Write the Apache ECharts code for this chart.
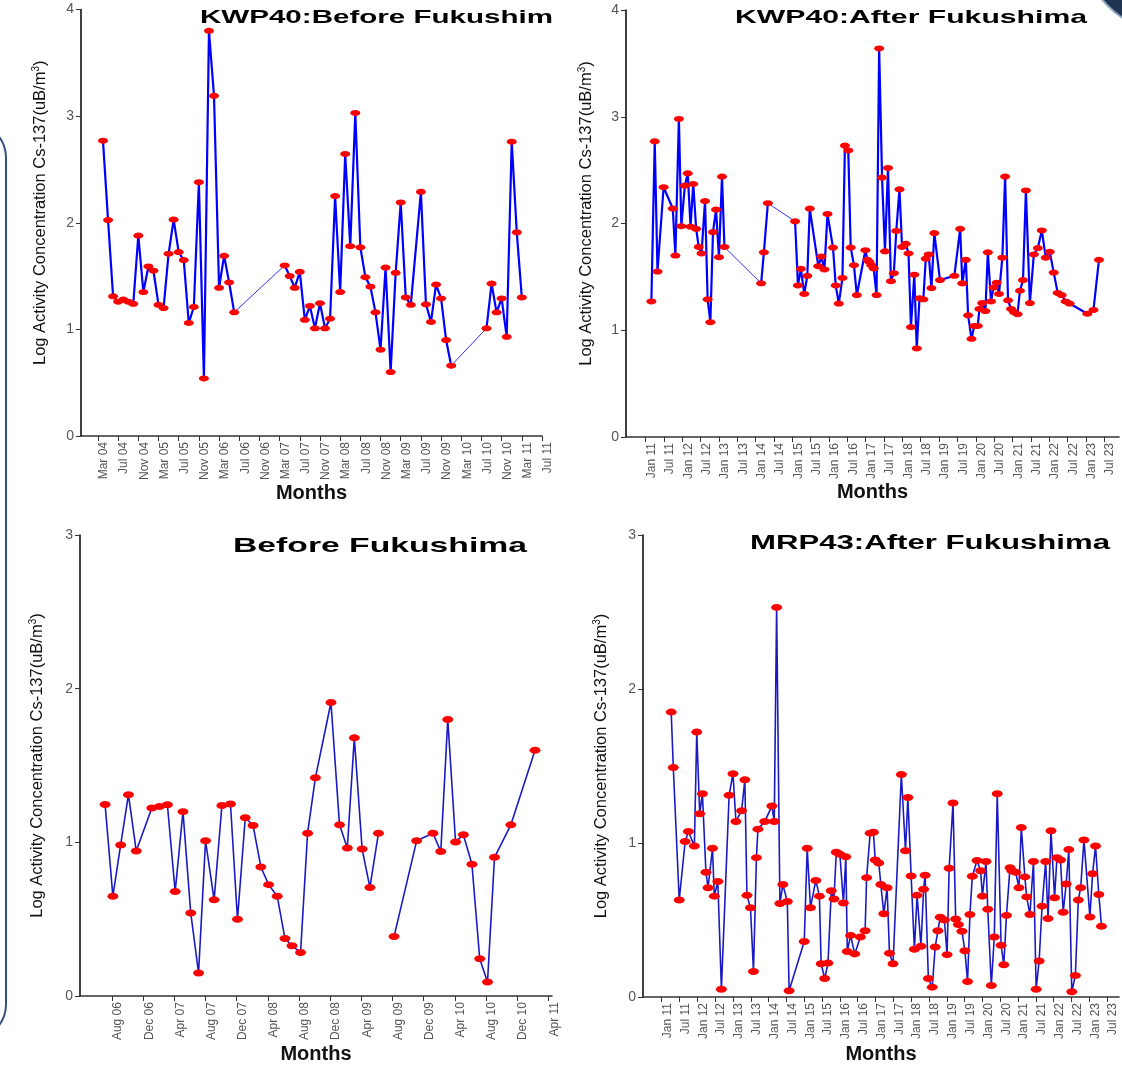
<!DOCTYPE html>
<html><head><meta charset="utf-8">
<script src="https://cdn.jsdelivr.net/npm/echarts@6/dist/echarts.min.js"></script>
<style>html,body{margin:0;padding:0;background:#fff}#c{width:1122px;height:1065px}</style>
</head><body><div id="c"></div>
<script>
// ---------- DATA (months counted from Jan 2000: month index = yy*12 + monthNumber-1) ----------
const kwpBeforeMonths = [51,52,53,54,55,56,57,58,59,60,61,62,63,64,65,66,67,68,69,70,71,72,73,74,75,76,77,
  87,88,89,90,91,92,93,94,95,96,97,98,99,100,101,102,103,104,105,106,107,108,109,110,111,112,
  114,115,116,117,118,119,120,127,128,129,130,131,132,133,134];
const kwpBeforeValues = [2.77,2.025,1.31,1.26,1.28,1.26,1.24,1.88,1.35,1.59,1.55,1.23,1.20,1.71,2.03,1.725,1.65,1.06,1.21,2.38,0.54,3.80,3.19,1.39,1.69,1.44,1.16,
  1.60,1.50,1.39,1.54,1.09,1.22,1.01,1.245,1.01,1.10,2.25,1.35,2.645,1.78,3.03,1.77,1.49,1.40,1.16,0.81,1.58,0.60,1.53,2.19,1.30,1.23,
  2.29,1.235,1.07,1.42,1.29,0.90,0.66,1.01,1.43,1.16,1.29,0.93,2.76,1.91,1.30];

const kwpAfterMonths = [133.9,135.0,135.9,137.9,140.9,141.75,142.9,143.7,144.85,145.8,146.7,147.6,148.55,149.4,150.3,151.45,152.3,153.2,154.05,155.05,156.0,157.0,157.8,
  169.8,170.7,172.0,180.9,181.85,182.8,183.9,184.9,185.7,188.5,189.5,190.5,191.5,193.3,194.2,195.2,196.4,197.2,198.3,199.1,200.15,201.1,
  203.9,204.55,205.2,205.85,206.6,207.55,208.4,209.35,210.3,211.3,212.25,213.2,214.0,215.05,215.9,217.1,218.0,218.8,219.9,220.7,221.6,222.85,223.65,224.6,225.5,226.45,228.3,
  233.0,234.9,235.6,236.75,237.5,238.6,239.5,240.65,241.2,242.1,243.15,243.95,245.0,245.8,246.85,247.6,248.7,249.6,250.55,251.55,252.5,253.65,254.45,255.45,256.4,257.7,259.0,260.3,261.6,262.9,264.2,265.5,266.8,268.1,269.4,270.7,276.5,278.5,280.3];
const kwpAfterValues = [1.27,2.77,1.55,2.34,2.14,1.70,2.98,1.975,2.355,2.47,1.97,2.37,1.95,1.78,1.72,2.21,1.29,1.075,1.92,2.13,1.685,2.44,1.78,
  1.44,1.73,2.19,2.02,1.42,1.575,1.34,1.51,2.14,1.60,1.69,1.57,2.09,1.775,1.42,1.25,1.49,2.73,2.685,1.775,1.61,1.33,
  1.75,1.66,1.64,1.61,1.58,1.33,3.64,2.43,1.74,2.52,1.46,1.535,1.93,2.32,1.78,1.81,1.72,1.03,1.52,0.83,1.30,1.29,1.67,1.71,1.395,1.91,1.47,
  1.51,1.95,1.44,1.66,1.14,0.92,1.04,1.04,1.20,1.255,1.18,1.73,1.27,1.40,1.445,1.34,1.68,2.44,1.28,1.20,1.17,1.15,1.37,1.47,2.31,1.255,1.71,1.77,1.935,1.68,1.735,1.54,1.35,1.33,1.27,1.25,1.155,1.19,1.66];

const mrpBeforeMonths = [78.1,79.1,80.1,81.1,82.1,84.1,85.1,86.1,87.1,88.1,89.1,90.1,91.0,92.1,93.1,94.2,95.1,96.1,97.1,98.1,99.1,100.2,101.2,102.1,103.2,104.1,105.1,107.1,108.2,109.2,110.1,111.1,112.1,113.2,
  114.2,115.2,118.1,120.2,121.2,122.1,123.1,124.1,125.2,126.2,127.2,128.1,130.2,133.3];
const mrpBeforeValues = [1.247,0.65,0.983,1.31,0.944,1.224,1.234,1.245,0.68,1.20,0.54,0.15,1.01,0.626,1.24,1.25,0.50,1.16,1.11,0.84,0.725,0.65,0.374,0.327,0.284,1.06,1.42,1.91,1.114,0.963,1.68,0.957,0.707,1.06,
  null,0.387,1.01,1.06,0.94,1.80,1.002,1.05,0.858,0.243,0.092,0.903,1.114,1.60];

const mrpAfterMonths = [135.2,135.9,137.9,139.9,141.0,143.0,143.8,144.8,145.7,146.9,147.6,149.1,149.7,150.9,152.1,154.7,156.0,157.0,158.9,160.0,160.7,161.9,162.9,163.9,164.4,166.7,169.1,169.9,170.7,171.8,172.8,174.3,174.9,
  180.0,181.0,182.1,183.9,185.1,185.7,186.9,188.0,189.1,190.0,190.8,192.0,193.2,194.0,194.5,195.6,197.0,198.9,200.5,201.0,202.2,203.3,203.9,205.1,205.8,206.8,207.9,208.7,209.9,
  212.7,214.1,214.9,216.0,217.1,218.0,219.3,220.2,220.7,221.8,223.1,224.1,225.0,225.8,227.2,228.1,228.8,230.1,231.0,231.9,233.1,234.1,235.0,235.8,236.6,238.2,239.4,240.0,241.2,241.8,
  243.0,244.0,245.0,246.3,247.2,248.1,249.3,249.9,251.2,252.3,253.1,254.3,254.9,256.0,257.2,258.1,259.1,260.1,261.3,262.1,263.1,264.3,265.1,266.3,267.2,268.2,269.1,270.1,271.3,272.3,273.1,274.2,276.2,277.1,278.1,279.2,280.1];
const mrpAfterValues = [1.85,1.49,0.63,1.01,1.075,0.98,1.72,1.19,1.32,0.81,0.71,0.966,0.655,0.75,0.05,1.31,1.45,1.14,1.21,1.41,0.66,0.58,0.166,0.905,1.09,1.14,1.24,1.14,2.53,0.607,0.73,0.62,0.04,
  0.36,0.966,0.58,0.757,0.655,0.216,0.12,0.22,0.69,0.636,0.94,0.927,0.61,0.91,0.295,0.40,0.28,0.39,0.43,0.775,1.064,1.07,0.89,0.87,0.73,0.54,0.71,0.284,0.216,
  1.445,0.95,1.295,0.786,0.31,0.66,0.33,0.70,0.79,0.12,0.064,0.325,0.43,0.518,0.50,0.275,0.836,1.26,0.507,0.47,0.427,0.30,0.10,0.536,0.784,0.886,0.82,0.655,0.88,0.57,
  0.075,0.39,1.32,0.336,0.21,0.53,0.84,0.82,0.81,0.71,1.10,0.78,0.65,0.536,0.88,0.05,0.234,0.59,0.88,0.51,1.08,0.645,0.905,0.89,0.55,0.734,0.957,0.034,0.14,0.63,0.71,1.02,0.52,0.80,0.98,0.666,0.46];

const kwpBeforeTicks = ['Mar 04','Jul 04','Nov 04','Mar 05','Jul 05','Nov 05','Mar 06','Jul 06','Nov 06','Mar 07','Jul 07','Nov 07',
  'Mar 08','Jul 08','Nov 08','Mar 09','Jul 09','Nov 09','Mar 10','Jul 10','Nov 10','Mar 11','Jul 11'];
const afterTicks = ['Jan 11','Jul 11','Jan 12','Jul 12','Jan 13','Jul 13','Jan 14','Jul 14','Jan 15','Jul 15','Jan 16','Jul 16','Jan 17',
  'Jul 17','Jan 18','Jul 18','Jan 19','Jul 19','Jan 20','Jul 20','Jan 21','Jul 21','Jan 22','Jul 22','Jan 23','Jul 23'];
const mrpBeforeTicks = ['Aug 06','Dec 06','Apr 07','Aug 07','Dec 07','Apr 08','Aug 08','Dec 08','Apr 09','Aug 09','Dec 09','Apr 10','Aug 10','Dec 10','Apr 11'];

const titles = ['KWP40:Before Fukushim', 'KWP40:After Fukushima', 'Before Fukushima', 'MRP43:After Fukushima'];
const yName = 'Log Activity Concentration Cs-137(uB/m{sup|3})';
const xName = 'Months';

// ---------- LAYOUT ----------
const MON = ['Jan','Feb','Mar','Apr','May','Jun','Jul','Aug','Sep','Oct','Nov','Dec'];
function labelToIndex(s){ const p = s.split(' '); return (+p[1]) * 12 + MON.indexOf(p[0]); }

const panels = [
  {months:kwpBeforeMonths, values:kwpBeforeValues, ticks:kwpBeforeTicks, grid:{left:81, top:9.5, width:461, height:426.5}, xMin:46.64, xMax:138, yMax:4,
   line:'#0000ff', lw:2.2, sym:[10,6], thinGap:6, title:{x:200, y:18, w:353, size:19}, nameGapX:42, nameGapY:31, yShift:20},
  {months:kwpAfterMonths, values:kwpAfterValues, ticks:afterTicks, grid:{left:626, top:10, width:493, height:427}, xMin:125.6, xMax:286.85, yMax:4,
   line:'#0000ff', lw:2.2, sym:[10,6], thinGap:6, title:{x:735, y:18, w:352, size:19}, nameGapX:42, nameGapY:30, yShift:20},
  {months:mrpBeforeMonths, values:mrpBeforeValues, ticks:mrpBeforeTicks, grid:{left:80, top:535, width:472, height:464}, xMin:74.88, xMax:135.48, yMax:3,
   line:'#1a1ac4', lw:1.6, sym:[11,7], thinGap:999, title:{x:233, y:546, w:294, size:21}, nameGapX:47, nameGapY:33, yShift:0},
  {months:mrpAfterMonths, values:mrpAfterValues, ticks:afterTicks, grid:{left:643, top:535, width:476, height:465}, xMin:125.7, xMax:286.0, yMax:3,
   line:'#1a1ac4', lw:1.6, sym:[11,7], thinGap:999, title:{x:750, y:543, w:360, size:21}, nameGapX:47, nameGapY:32, yShift:0}
];

const FONT = '"Liberation Sans", Arial, sans-serif';
const ctx = document.createElement('canvas').getContext('2d');
function fitScale(text, font, target){ ctx.font = font; return target / ctx.measureText(text).width; }

const option = {animation:false, backgroundColor:'#ffffff', grid:[], xAxis:[], yAxis:[], series:[], graphic:[]};

panels.forEach((p, i) => {
  option.grid.push(Object.assign({containLabel:false}, p.grid));
  const tv = p.ticks.map(labelToIndex);
  option.xAxis.push({
    type:'value', gridIndex:i, min:p.xMin, max:p.xMax,
    axisLine:{show:true, onZero:false, lineStyle:{color:'#333', width:1.6}},
    axisTick:{show:true, customValues:tv, length:5, lineStyle:{color:'#333', width:1}},
    axisLabel:{customValues:tv, rotate:90, fontSize:12, color:'#555', fontFamily:FONT, margin:6, verticalAlign:'top',
      formatter:(v)=>{ let k=0; tv.forEach((t,j)=>{ if(Math.abs(t-v)<Math.abs(tv[k]-v)) k=j; }); return p.ticks[k]; }},
    splitLine:{show:false},
    name:xName, nameLocation:'middle', nameGap:p.nameGapX,
    nameTextStyle:{fontSize:20, fontWeight:'bold', color:'#111', fontFamily:FONT}
  });
  option.yAxis.push({
    type:'value', gridIndex:i, min:0, max:p.yMax, interval:1,
    axisLine:{show:true, onZero:false, lineStyle:{color:'#111', width:1.6}},
    axisTick:{show:true, length:5, lineStyle:{color:'#333'}},
    axisLabel:{fontSize:14, color:'#555', fontFamily:FONT, margin:7},
    splitLine:{show:false},
    name:yName, nameLocation:'middle', nameGap:p.nameGapY,
    nameTextStyle:{fontSize:16.5, color:'#111', fontFamily:FONT, padding:[0,0,0,p.yShift],
      rich:{sup:{fontSize:10, fontFamily:FONT, color:'#111', padding:[0,0,9,0]}}}
  });
  const main = [], thin = [];
  for (let k = 0; k < p.months.length; k++) {
    if (k > 0 && p.values[k] !== null && p.values[k-1] !== null && p.months[k] - p.months[k-1] > p.thinGap) {
      main.push([(p.months[k] + p.months[k-1]) / 2, '-']);
      thin.push([p.months[k-1], p.values[k-1]], [p.months[k], p.values[k]], [p.months[k] + 0.01, '-']);
    }
    main.push([p.months[k], p.values[k] === null ? '-' : p.values[k]]);
  }
  if (thin.length) option.series.push({type:'line', xAxisIndex:i, yAxisIndex:i, data:thin, showSymbol:false, symbol:'none',
    lineStyle:{color:'#3030ff', width:1}, connectNulls:false, z:2, silent:true});
  option.series.push({type:'line', xAxisIndex:i, yAxisIndex:i, data:main, connectNulls:false,
    symbol:'circle', symbolSize:p.sym, showSymbol:true, showAllSymbol:true,
    lineStyle:{color:p.line, width:p.lw}, itemStyle:{color:'#ff0000', borderWidth:0}, z:3, silent:true});
  const tf = 'bold ' + p.title.size + 'px ' + FONT;
  option.graphic.push({type:'text', x:p.title.x, y:p.title.y, scaleX:fitScale(titles[i], tf, p.title.w), z:10,
    style:{text:titles[i], font:tf, fill:'#000', align:'left', verticalAlign:'middle'}});
});

// slide decorations
option.graphic.push({type:'rect', shape:{x:-300, y:122, width:306, height:918, r:36}, z:1,
  style:{fill:'none', stroke:'#34507d', lineWidth:2}});
option.graphic.push({type:'circle', shape:{cx:1175, cy:-60, r:94}, z:1,
  style:{fill:'#1f3552', stroke:'#8ea4bc', lineWidth:2}});

const chart = echarts.init(document.getElementById('c'), null, {renderer:'canvas'});
chart.setOption(option);
</script></body></html>
